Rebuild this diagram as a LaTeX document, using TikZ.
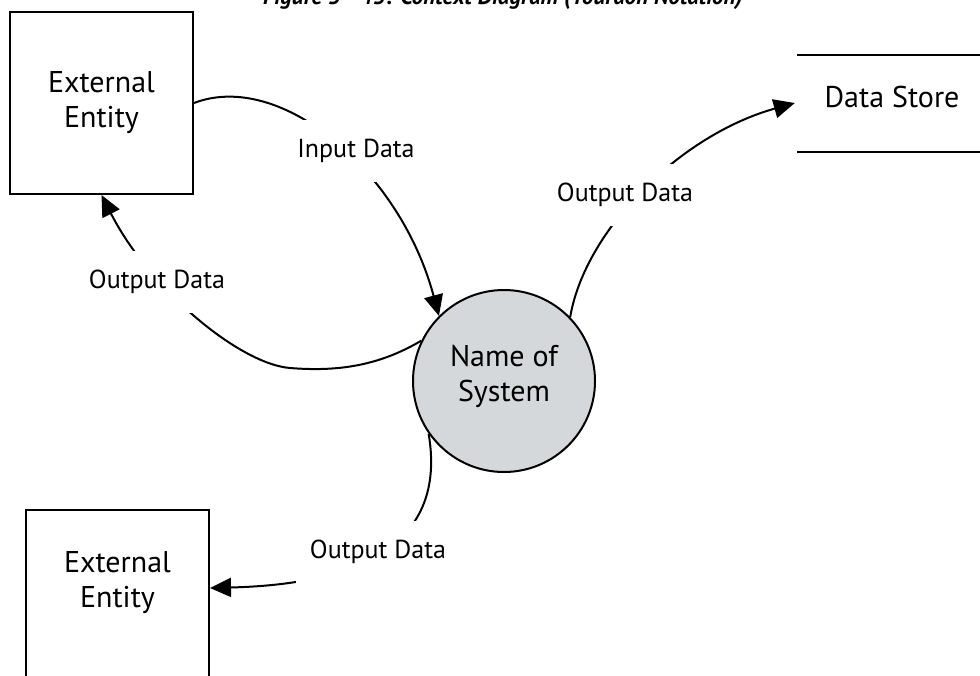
\documentclass[tikz,border=0pt]{standalone}
\usepackage{fontspec}
\setmainfont{PT Sans}
\usetikzlibrary{arrows.meta}
\definecolor{procgray}{RGB}{213,216,218}
\begin{document}
\begin{tikzpicture}[x=1pt,y=-1pt,
  entitybox/.style={draw, line width=2pt, minimum width=183pt, minimum height=182pt, inner sep=0pt},
  entitytext/.style={align=center, font=\fontsize{30}{35}\selectfont, inner sep=0pt},
  entity/.style={entitybox, entitytext},
  proc/.style={circle, draw, line width=2pt, fill=procgray, minimum size=182pt, inner sep=0pt, align=center, text depth=16pt, font=\fontsize{30}{35}\selectfont},
  storeline/.style={line width=2pt},
  flowlabel/.style={fill=white, inner xsep=14pt, inner ysep=19pt, font=\fontsize{26}{30}\selectfont},
  flow/.style={line width=2pt, -{Triangle[length=21pt,width=19pt]}},
  titletext/.style={font=\bfseries\itshape\fontsize{23}{26}\selectfont, anchor=base, inner sep=0pt}
]
\clip (0,0) rectangle (980,675);
\useasboundingbox (0,0) rectangle (980,675);

\node[titletext] (title) at (503,4) {Figure 5 - 43: Context Diagram (Yourdon Notation)};

\node[entity] (ee1) at (101.5,103) {External\\Entity};
\node[entitybox] (ee2) at (117.5,601) {};
\node[entitytext] (ee2t) at (117.5,583) {External\\Entity};

\node[proc] (sys) at (504,381) {Name of\\System};

\node[minimum width=194pt, inner sep=0pt, font=\fontsize{30}{35}\selectfont] (ds) at (892,97) {Data Store};
\draw[storeline] (797,55) -- (980,55);
\draw[storeline] (797,152) -- (980,152);

\draw[flow] (ee1.east) .. controls (280,70) and (400,170) .. (sys.135);
\draw[flow] (sys.154) .. controls (380,365) and (340,372) .. (290,368)
                      .. controls (240,364) and (150,290) .. (ee1.south);
\draw[flow] (sys.44) .. controls (585,230) and (680,135) .. ([yshift=-6pt]ds.west);
\draw[flow] (sys.215) .. controls (450,560) and (330,585) .. ([yshift=13pt]ee2.east);

\node[flowlabel] (l1) at (356,151) {Input Data};
\node[flowlabel] (l2) at (157,282) {Output Data};
\node[flowlabel] (l3) at (625,195) {Output Data};
\node[flowlabel] (l4) at (378,552) {Output Data};
\end{tikzpicture}
\end{document}
